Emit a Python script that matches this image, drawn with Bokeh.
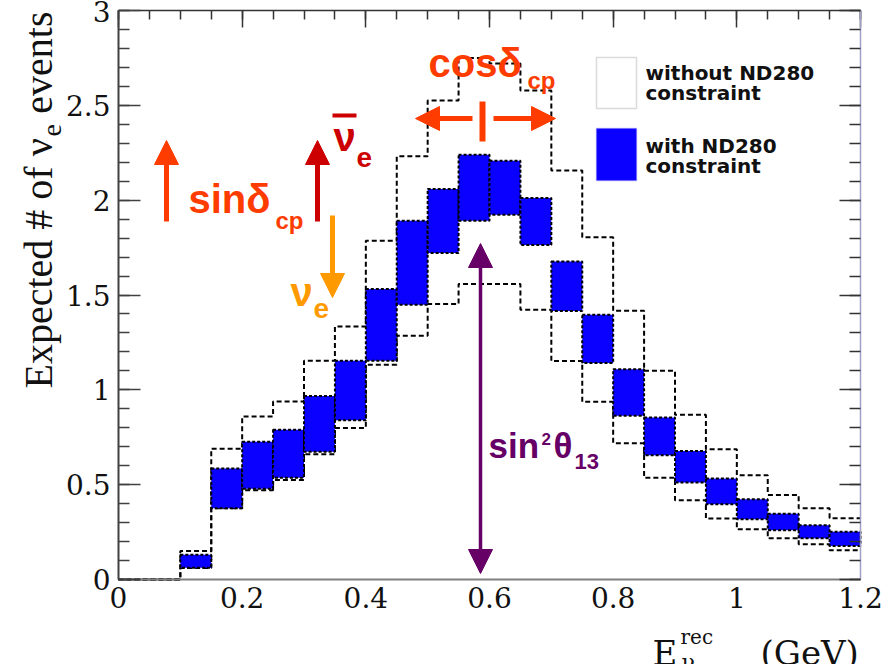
import numpy as np
from bokeh.plotting import figure
from bokeh.models import (Range1d, LinearAxis, FixedTicker, Label, Arrow,
                          NormalHead, BoxAnnotation)
from bokeh.embed import file_html
from bokeh.resources import INLINE

# ---------------- data ----------------
BIN_EDGES = [0.00, 0.05, 0.10, 0.15, 0.20, 0.25, 0.30, 0.35, 0.40, 0.45, 0.50, 0.55,
             0.60, 0.65, 0.70, 0.75, 0.80, 0.85, 0.90, 0.95, 1.00, 1.05, 1.10, 1.15, 1.20]
# without ND280 constraint: upper / lower edge of the band
NO_ND_HIGH = [0, 0, 0.150, 0.690, 0.859, 0.938, 1.153, 1.334, 1.786, 2.231, 2.525, 2.75,
              2.72, 2.578, 2.156, 1.804, 1.417, 1.100, 0.868, 0.687, 0.550, 0.446, 0.376, 0.323]
NO_ND_LOW = [0, 0, 0.060, 0.376, 0.471, 0.525, 0.660, 0.799, 1.132, 1.285, 1.452, 1.558,
             1.558, 1.422, 1.152, 0.937, 0.719, 0.537, 0.418, 0.321, 0.265, 0.217, 0.186, 0.154]
# with ND280 constraint: upper / lower edge of the band
ND_HIGH = [0, 0, 0.130, 0.585, 0.726, 0.789, 0.968, 1.153, 1.531, 1.892, 2.059, 2.240,
           2.208, 2.012, 1.677, 1.396, 1.109, 0.854, 0.678, 0.532, 0.423, 0.347, 0.286, 0.252]
ND_LOW = [0, 0, 0.062, 0.376, 0.479, 0.536, 0.674, 0.840, 1.153, 1.449, 1.721, 1.892,
          1.923, 1.764, 1.415, 1.141, 0.863, 0.655, 0.511, 0.397, 0.318, 0.260, 0.217, 0.177]

X_TICKS = [0.0, 0.2, 0.4, 0.6, 0.8, 1.0, 1.2]
X_TICK_LABELS = ["0", "0.2", "0.4", "0.6", "0.8", "1", "1.2"]
X_MINOR = [0.05 * i for i in range(25)]
Y_TICKS = [0.0, 0.5, 1.0, 1.5, 2.0, 2.5, 3.0]
Y_TICK_LABELS = ["0", "0.5", "1", "1.5", "2", "2.5", "3"]
Y_MINOR = [0.1 * i for i in range(31)]

# ---------------- styles / geometry ----------------
BLUE = "#0a00ff"
ORANGE_RED = "#ff3c00"
DARK_RED = "#cc0000"
ORANGE = "#ff9900"
PURPLE = "#660066"
SANS = "Liberation Sans"
SERIF = "DejaVu Serif"
TIMES = "Liberation Serif"

W, H = 893, 664
F_LEFT, F_RIGHT, F_TOP, F_BOTTOM = 118, 860, 10, 579   # pixel box of the data area
XMIN, XMAX, YMIN, YMAX = 0.0, 1.2, 0.0, 3.0
UX = (F_RIGHT - F_LEFT) / (XMAX - XMIN)
UY = (F_BOTTOM - F_TOP) / (YMAX - YMIN)


def dx(px):
    return XMIN + (px - F_LEFT) / UX


def dy(py):
    return YMIN + (F_BOTTOM - py) / UY


edges = np.array(BIN_EDGES)
lo = edges[:-1]
hi = edges[1:]

p = figure(width=W, height=H, x_range=Range1d(dx(0), dx(W)), y_range=Range1d(dy(H), dy(0)),
           output_backend="svg", toolbar_location=None, min_border=0,
           background_fill_color="white", border_fill_color="white")
p.xgrid.visible = False
p.ygrid.visible = False
p.outline_line_color = None

# bottom axis
xa = p.xaxis[0]
xa.fixed_location = YMIN
xa.bounds = (XMIN, XMAX)
xa.ticker = FixedTicker(ticks=X_TICKS, minor_ticks=X_MINOR)
xa.major_label_overrides = dict(zip(X_TICKS, X_TICK_LABELS))
xa.major_tick_in = 0
xa.major_tick_out = 0
xa.minor_tick_in = 0
xa.minor_tick_out = 0
xa.axis_line_color = "#808080"
xa.axis_line_width = 2
xa.major_label_text_font = SERIF
xa.major_label_text_font_size = "28px"
xa.major_label_text_color = "#111111"
xa.major_label_standoff = 7

# left axis
ya = p.yaxis[0]
ya.fixed_location = XMIN
ya.bounds = (YMIN, YMAX)
ya.ticker = FixedTicker(ticks=Y_TICKS, minor_ticks=Y_MINOR)
ya.major_label_overrides = dict(zip(Y_TICKS, Y_TICK_LABELS))
ya.major_tick_in = 22
ya.major_tick_out = 0
ya.minor_tick_in = 11
ya.minor_tick_out = 0
ya.axis_line_color = "#404040"
ya.axis_line_width = 2
ya.major_tick_line_color = "#404040"
ya.minor_tick_line_color = "#404040"
ya.major_tick_line_width = 1.5
ya.minor_tick_line_width = 1.5
ya.major_label_text_font = SERIF
ya.major_label_text_font_size = "28px"
ya.major_label_text_color = "#111111"
ya.major_label_standoff = 8

# mirrored axes (ticks only)
top = LinearAxis(fixed_location=YMAX, bounds=(XMIN, XMAX),
                 ticker=FixedTicker(ticks=X_TICKS, minor_ticks=X_MINOR),
                 major_label_overrides={t: "" for t in X_TICKS},
                 major_tick_in=17, major_tick_out=0, minor_tick_in=9, minor_tick_out=0,
                 axis_line_color="#333333", axis_line_width=1.5,
                 major_tick_line_color="#333333", minor_tick_line_color="#333333",
                 major_tick_line_width=1.5, minor_tick_line_width=1.5)
p.add_layout(top, "above")
right = LinearAxis(fixed_location=XMAX, bounds=(YMIN, YMAX),
                   ticker=FixedTicker(ticks=Y_TICKS, minor_ticks=Y_MINOR),
                   major_label_overrides={t: "" for t in Y_TICKS},
                   major_tick_in=21, major_tick_out=0, minor_tick_in=11, minor_tick_out=0,
                   axis_line_color="#a0a0c8", axis_line_width=1.5,
                   major_tick_line_color="#333333", minor_tick_line_color="#333333",
                   major_tick_line_width=1.5, minor_tick_line_width=1.5)
p.add_layout(right, "right")

# ---------------- histogram bands ----------------
p.step(edges, np.append(NO_ND_HIGH, NO_ND_HIGH[-1]), mode="after",
       line_color="black", line_dash="5 3", line_width=2)
p.step(edges, np.append(NO_ND_LOW, NO_ND_LOW[-1]), mode="after",
       line_color="black", line_dash="5 3", line_width=2)
p.quad(left=lo, right=hi, bottom=ND_LOW, top=ND_HIGH, fill_color=BLUE,
       line_color="black", line_dash="3 2", line_width=2)


# ---------------- helpers for annotations (pixel placement) ----------------
def lab(px, base_py, text, size, color, font=SANS, style="bold", align="left"):
    """horizontal text whose baseline sits at base_py"""
    p.add_layout(Label(x=dx(px), y=dy(base_py - 0.345 * size), text=text, text_font=font,
                       text_font_style=style, text_font_size=f"{size}px", text_color=color,
                       text_align=align, text_baseline="middle"))


def vlab(base_px, py, text, size, color, font=TIMES, align="left"):
    """text rotated by 90 degrees whose baseline sits at base_px"""
    p.add_layout(Label(x=dx(base_px - 0.345 * size), y=dy(py), text=text, text_font=font,
                       text_font_style="normal", text_font_size=f"{size}px",
                       text_color=color, angle=np.pi / 2, text_align=align,
                       text_baseline="middle"))


def arrow(px0, py0, px1, py1, color, lw, size=24, both=False, head=True):
    p.add_layout(Arrow(
        x_start=dx(px0), y_start=dy(py0), x_end=dx(px1), y_end=dy(py1),
        line_color=color, line_width=lw,
        end=NormalHead(size=size, fill_color=color, line_color=color) if head else None,
        start=NormalHead(size=size, fill_color=color, line_color=color) if both else None))


# ---------------- legend ----------------
p.add_layout(BoxAnnotation(left=dx(596), right=dx(636), bottom=dy(108), top=dy(57),
                           fill_color="white", fill_alpha=1, line_color="#888888",
                           line_width=1.5, level="overlay"))
p.add_layout(BoxAnnotation(left=dx(596), right=dx(636), bottom=dy(180), top=dy(128),
                           fill_color=BLUE, fill_alpha=1, line_color="#4a3aff",
                           line_width=1.5, level="overlay"))
for txt, base in [("without ND280", 79), ("constraint", 99),
                  ("with ND280", 152), ("constraint", 172)]:
    lab(645, base, txt, 20, "#111111", font="DejaVu Sans")

# sin(delta_cp)
arrow(166, 221, 166, 140, ORANGE_RED, 5)
lab(188, 212, "sinδ", 40, ORANGE_RED)
lab(275, 228, "cp", 24, ORANGE_RED)

# anti-nu_e
arrow(317, 221, 317, 140, DARK_RED, 5)
lab(333, 150, "ν", 40, DARK_RED)
arrow(332, 115, 356, 115, DARK_RED, 4, head=False)
lab(356, 167, "e", 28, DARK_RED)

# nu_e
arrow(332, 215, 332, 297, ORANGE, 5)
lab(290, 305, "ν", 40, ORANGE)
lab(313, 318, "e", 28, ORANGE)

# cos(delta_cp)
lab(428, 76, "cosδ", 40, ORANGE_RED)
lab(527, 88, "cp", 24, ORANGE_RED)
arrow(472, 118, 415, 118, ORANGE_RED, 5)
arrow(493, 118, 555, 118, ORANGE_RED, 5)
arrow(482, 141, 482, 101, ORANGE_RED, 6, head=False)

# sin^2(theta_13)
arrow(480, 573, 480, 243, PURPLE, 3.5, size=24, both=True)
lab(488, 457, "sin", 35, PURPLE)
lab(541, 444, "2", 17, PURPLE)
lab(553, 457, "θ", 35, PURPLE)
lab(574, 469, "13", 22, PURPLE)

# ---------------- axis titles ----------------
vlab(52, 388, "Expected # of ν", 40, "#111111")
vlab(61, 136, "e", 28, "#111111")
vlab(52, 11, "events", 40, "#111111", align="right")

lab(652, 664, "E", 34, "#111111", font=SERIF, style="normal")
lab(681, 670, "ν", 22, "#111111", font=SERIF, style="normal")
lab(680, 643, "rec", 20, "#111111", font=SERIF, style="normal")
lab(760, 664, "(GeV)", 34, "#111111", font=SERIF, style="normal")

open("out.html", "w").write(file_html(p, INLINE))
